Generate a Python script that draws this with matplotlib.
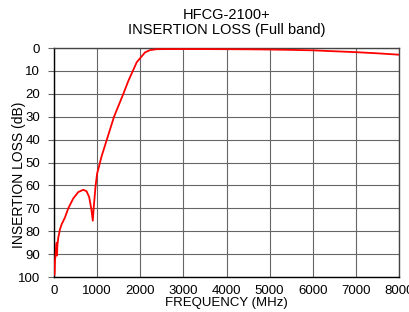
import matplotlib.pyplot as plt

plt.rcParams['font.family'] = ['Liberation Sans', 'DejaVu Sans']

# Insertion loss (MHz, dB)
freq = [10, 15, 23, 38, 50, 62, 70, 80, 100, 138, 177, 254, 331, 446, 562,
        677, 754, 815, 869, 900, 923, 962, 1000, 1040,
        1100, 1222, 1392, 1608, 1725, 1840, 1918, 2012, 2111, 2227, 2382,
        2600, 3000, 3500, 4000, 4500, 5000, 5500, 6000, 6500, 7000, 7500, 8000]
loss = [99, 98.5, 92.9, 90, 87, 85, 90.6, 86, 82.8, 79.2, 77, 74, 70, 65.7, 62.9,
        61.9, 62.5, 65, 70.7, 75.4, 69.3, 60.6, 54.8, 52,
        47.5, 40.2, 30, 20, 14.3, 9.5, 6.2, 4.1, 1.9, 0.9, 0.5,
        0.45, 0.45, 0.45, 0.5, 0.55, 0.65, 0.8, 1.0, 1.4, 1.8, 2.3, 2.9]

xticks = [0, 1000, 2000, 3000, 4000, 5000, 6000, 7000, 8000]
yticks = [0, 10, 20, 30, 40, 50, 60, 70, 80, 90, 100]

fig = plt.figure(figsize=(4.09, 3.12), dpi=100)
ax = fig.add_axes([0.132, 0.112, 0.8436, 0.734])

ax.plot(freq, loss, color='red', linewidth=1.3, zorder=3)

ax.set_xlim(0, 8000)
ax.set_ylim(100, 0)
ax.set_xticks(xticks)
ax.set_yticks(yticks)
ax.grid(True, color='#666666', linewidth=0.8)
ax.tick_params(axis='x', labelsize=9.5, length=0, pad=6)
ax.tick_params(axis='y', labelsize=9.5, length=4, width=0.8, pad=6,
               color='#666666')
for s in ax.spines.values():
    s.set_linewidth(1.0)
    s.set_color('#444444')
ax.spines['left'].set_color('black')
ax.spines['bottom'].set_color('black')

ax.set_xlabel('FREQUENCY (MHz)', fontsize=9.5, labelpad=0)
ax.set_ylabel('INSERTION LOSS (dB)', fontsize=10)
ax.yaxis.set_label_coords(-0.082, 0.445)
ax.set_title('HFCG-2100+\nINSERTION LOSS (Full band)', fontsize=10.5, pad=10,
             linespacing=1.1)

fig.savefig('out.png', dpi=100)
